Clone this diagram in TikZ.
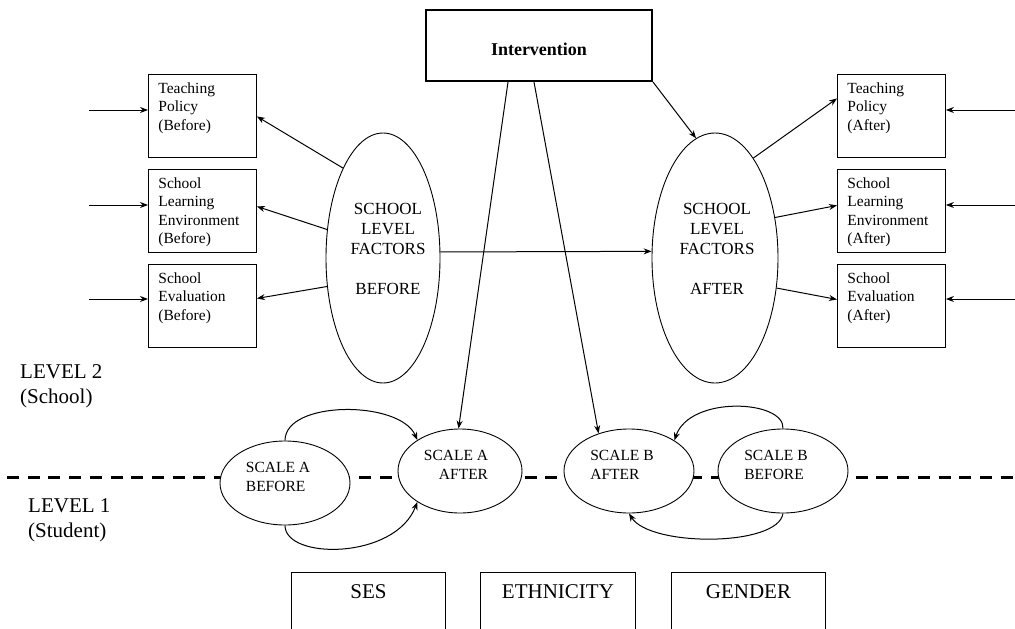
\documentclass[tikz,border=0pt]{standalone}
\usepackage{fontspec}
\setmainfont{Liberation Serif}
\usetikzlibrary{shapes.geometric,arrows.meta,calc}
\tikzset{
  arr/.style={-{Stealth[length=8pt,width=6pt]}, line width=1pt},
  sidebox/.style={draw, line width=0.9pt, rectangle, inner xsep=10pt, inner ysep=8pt, anchor=north west},
  bigell/.style={draw, line width=0.9pt, ellipse, fill=white},
  scaleell/.style={draw, line width=0.9pt, ellipse, fill=white, minimum width=130pt, minimum height=84pt},
  txt/.style={inner sep=0pt, align=left},
  bottombox/.style={draw, line width=0.9pt, rectangle, anchor=north west, minimum width=154pt, minimum height=80pt}
}
\newcommand{\bxt}[1]{\parbox[t][67pt][t]{88pt}{\fontsize{15.5}{18.5}\selectfont #1}}
\begin{document}
\begin{tikzpicture}[x=1pt,y=-1pt]
\path[use as bounding box, clip] (0,0) rectangle (1015,629);
\fill[white] (0,0) rectangle (1015,629);

% dashed level line
\coordinate (dl) at (7,477);
\coordinate (dr) at (1015,477);
\draw[line width=3pt, dash pattern=on 12pt off 8.7pt] (dl) -- (dr);

% intervention
\node[draw, line width=2pt, minimum width=226pt, minimum height=71pt, font=\fontsize{18}{20}\selectfont\bfseries] (int) at (539,45.5) {\raisebox{-9.5pt}[0pt][0pt]{Intervention}};

% left boxes
\node[sidebox] (tpb) at (148,74) {\bxt{Teaching\\Policy\\(Before)}};
\node[sidebox] (slb) at (148,169) {\bxt{School\\Learning\\Environment\\(Before)}};
\node[sidebox] (seb) at (148,264) {\bxt{School\\Evaluation\\(Before)}};
% right boxes
\node[sidebox] (tpa) at (837,74) {\bxt{Teaching\\Policy\\(After)}};
\node[sidebox] (sla) at (837,169) {\bxt{School\\Learning\\Environment\\(After)}};
\node[sidebox] (sea) at (837,264) {\bxt{School\\Evaluation\\(After)}};

% big ellipses
\node[bigell, minimum width=114pt, minimum height=250pt] (sfb) at (383,258) {};
\node[bigell, minimum width=126pt, minimum height=250pt] (sfa) at (715,258) {};
\node[txt, align=center, font=\fontsize{17}{20}\selectfont] (sfbt) at (388,249) {SCHOOL\\LEVEL\\FACTORS\\[20pt]BEFORE};
\node[txt, align=center, font=\fontsize{17}{20}\selectfont] (sfat) at (717,249) {SCHOOL\\LEVEL\\FACTORS\\[20pt]AFTER};

% incoming arrows
\coordinate (inl1) at (89,110);
\coordinate (inl2) at (89,205);
\coordinate (inl3) at (89,299);
\coordinate (inr1) at (1015,110);
\coordinate (inr2) at (1015,205);
\coordinate (inr3) at (1015,299);
\draw[arr] (inl1) -- (tpb.west |- inl1);
\draw[arr] (inl2) -- (slb.west |- inl2);
\draw[arr] (inl3) -- (seb.west |- inl3);
\draw[arr] (inr1) -- (tpa.east |- inr1);
\draw[arr] (inr2) -- (sla.east |- inr2);
\draw[arr] (inr3) -- (sea.east |- inr3);

% ellipse to boxes
\draw[arr] (sfb.114) -- ([yshift=-0.5pt]tpb.east);
\draw[arr] (sfb.153) -- ([yshift=4.5pt]slb.east);
\draw[arr] (sfb.207) -- ([yshift=7.5pt]seb.east);
\draw[arr] (sfa.69) -- ([yshift=17.5pt]tpa.west);
\draw[arr] (sfa.34) -- ([yshift=5.5pt]sla.west);
\draw[arr] (sfa.-26) -- ([yshift=6.5pt]sea.west);

% before -> after
\draw[arr] (sfb.6) -- (sfa.174);

% scale ellipses
\node[scaleell] (sab) at (285,483) {};
\node[scaleell, minimum width=124pt] (saa) at (460,471) {};
\node[scaleell] (sba) at (629,471) {};
\node[scaleell] (sbb) at (783,471) {};
\node[txt, font=\fontsize{15.5}{19}\selectfont] (sabt) at (278,477) {SCALE A\\BEFORE};
\node[txt, align=right, font=\fontsize{15.5}{19}\selectfont] (saat) at (456,465) {SCALE A\\AFTER};
\node[txt, font=\fontsize{15.5}{19}\selectfont] (sbat) at (622,465) {SCALE B\\AFTER};
\node[txt, font=\fontsize{15.5}{19}\selectfont] (sbbt) at (776,465) {SCALE B\\BEFORE};

% intervention arrows
\draw[arr] (int.south east) -- (sfa.99.5);
\draw[arr] ([xshift=-31pt]int.south) -- (saa.92);
\draw[arr] ([xshift=-5pt]int.south) -- (sba.129);

% curved arrows
\draw[arr] (sab.north) .. controls (285,400) and (400,400) .. (saa.144);
\draw[arr] (sab.south) .. controls (285,560) and (395,560) .. (saa.216);
\draw[arr] (sbb.north) .. controls (785,400) and (690,395) .. (sba.34);
\draw[arr] (sbb.south) .. controls (778,547) and (650,547) .. (sba.south);

% level labels
\node[txt, anchor=base west, font=\fontsize{21}{25}\selectfont] (lv2) at (20,403) {LEVEL 2\\(School)};
\node[txt, anchor=base west, font=\fontsize{21}{25}\selectfont] (lv1) at (28,537) {LEVEL 1\\(Student)};

% bottom boxes
\node[bottombox] (ses) at (291,572) {};
\node[bottombox, minimum width=155pt] (eth) at (480,572) {};
\node[bottombox] (gen) at (671,572) {};
\node[font=\fontsize{21}{25}\selectfont, anchor=base] (sest) at (ses.north |- 0,598) {SES};
\node[font=\fontsize{21}{25}\selectfont, anchor=base] (etht) at (eth.north |- 0,598) {ETHNICITY};
\node[font=\fontsize{21}{25}\selectfont, anchor=base] (gent) at (gen.north |- 0,598) {GENDER};
\end{tikzpicture}
\end{document}
